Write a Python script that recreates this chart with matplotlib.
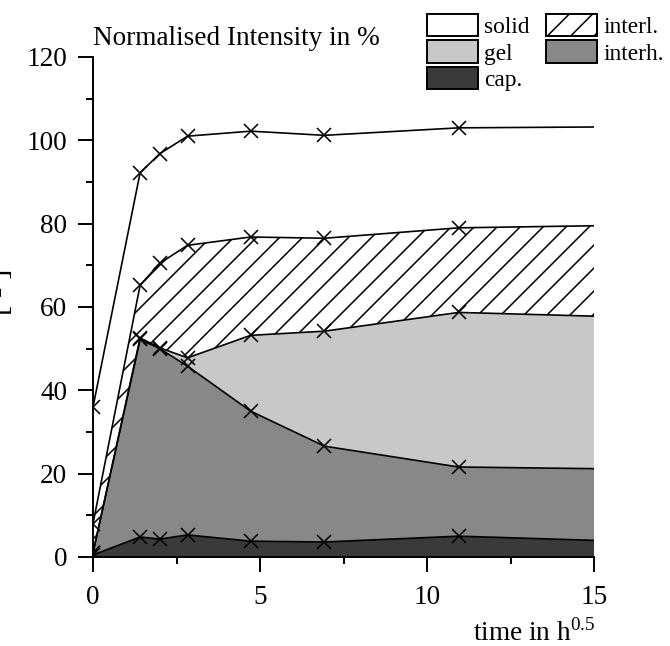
import numpy as np
import matplotlib
matplotlib.use("Agg")
import matplotlib.pyplot as plt
from matplotlib.patches import Patch
from matplotlib.ticker import MultipleLocator

plt.rcParams['font.family'] = ['Liberation Serif']
plt.rcParams['hatch.linewidth'] = 0.8

# time in h^0.5 (last point is the extension to the axis end, no marker)
t = [0.0, 1.41, 2.0, 2.83, 4.72, 6.93, 10.95, 15.0]

# cumulative upper boundaries of each layer, normalised intensity in %
cap_top = [0.5, 4.8, 4.3, 5.3, 3.8, 3.6, 5.0, 4.0]
interh_top = [1.0, 52.2, 50.0, 45.8, 35.0, 26.6, 21.6, 21.2]
gel_top = [1.0, 52.6, 50.2, 47.8, 53.2, 54.2, 58.7, 57.8]
interl_top = [8.0, 65.2, 70.5, 74.8, 76.8, 76.5, 79.0, 79.5]
solid_top = [36.0, 92.2, 96.8, 101.0, 102.2, 101.2, 103.0, 103.2]

labels = ["solid", "gel", "cap.", "interl.", "interh."]

fig = plt.figure(figsize=(670 / 140, 646 / 140), dpi=140)
ax = fig.add_axes([93 / 670, 1 - 557 / 646, (594 - 93) / 670, (557 - 57) / 646])
ax.set_xlim(0, 15)
ax.set_ylim(0, 120)

lw = 0.85
zero = np.zeros(len(t))
ax.fill_between(t, zero, cap_top, facecolor="#3a3a3a", edgecolor="none")
ax.fill_between(t, cap_top, interh_top, facecolor="#888888", edgecolor="none")
ax.fill_between(t, interh_top, gel_top, facecolor="#c8c8c8", edgecolor="none")
hatched = ax.fill_between(t, gel_top, interl_top, facecolor="white", edgecolor="none")
ax.fill_between(t, interl_top, solid_top, facecolor="white", edgecolor="none")

# diagonal hatching drawn by hand (45 deg on screen, ~23 px apart)
clip = hatched.get_paths()[0]
slope = (501 / 15) / (500 / 120)  # data-y per data-x for a 45 deg line
step = 23 / (501 / 15)
for c in np.arange(-15, 15, step):
    hl, = ax.plot([c, c + 15], [0, 15 * slope], color="black", lw=0.8)
    hl.set_clip_path(clip, ax.transData)

for top in [cap_top, interh_top, gel_top, interl_top, solid_top]:
    ax.plot(t, top, color="black", lw=lw, marker="x", ms=7, mew=0.8,
            markevery=slice(0, len(t) - 1))

ax.set_xlim(0, 15)
ax.set_ylim(0, 120)
ax.xaxis.set_major_locator(MultipleLocator(5))
ax.xaxis.set_minor_locator(MultipleLocator(2.5))
ax.yaxis.set_major_locator(MultipleLocator(20))
ax.yaxis.set_minor_locator(MultipleLocator(10))
for s in ["top", "right"]:
    ax.spines[s].set_visible(False)
for s in ["left", "bottom"]:
    ax.spines[s].set_linewidth(1.0)
ax.tick_params(which="major", direction="out", length=7.7, width=1.0, labelsize=14)
ax.tick_params(which="minor", direction="out", length=3.6, width=1.0)
ax.tick_params(axis="x", which="major", pad=6.5)
ax.tick_params(axis="y", which="major", pad=5.5)

fig.text(93 / 670, 1 - 45 / 646, "Normalised Intensity in %", fontsize=14,
         ha="left", va="baseline")
fig.text(595 / 670, 1 - 641 / 646, r"time in h$^{\mathregular{0.5}}$", fontsize=14,
         ha="right", va="baseline")
fig.text(15 / 670, 1 - 292 / 646, "[ - ]", fontsize=16, rotation=90,
         ha="right", va="center")

handles = [
    Patch(facecolor="white", edgecolor="black", lw=1.0),
    Patch(facecolor="#c8c8c8", edgecolor="black", lw=1.0),
    Patch(facecolor="#3a3a3a", edgecolor="black", lw=1.0),
    Patch(facecolor="white", edgecolor="black", lw=1.0, hatch="//"),
    Patch(facecolor="#888888", edgecolor="black", lw=1.0),
]
fig.legend(handles, labels, loc="upper left", bbox_to_anchor=(427 / 670, 1 - 14 / 646),
           ncol=2, frameon=False, fontsize=12, handlelength=2.2, handleheight=1.1,
           handletextpad=0.25, labelspacing=0.1, columnspacing=0.7, borderpad=0,
           borderaxespad=0)

fig.savefig("out.png", dpi=140)
